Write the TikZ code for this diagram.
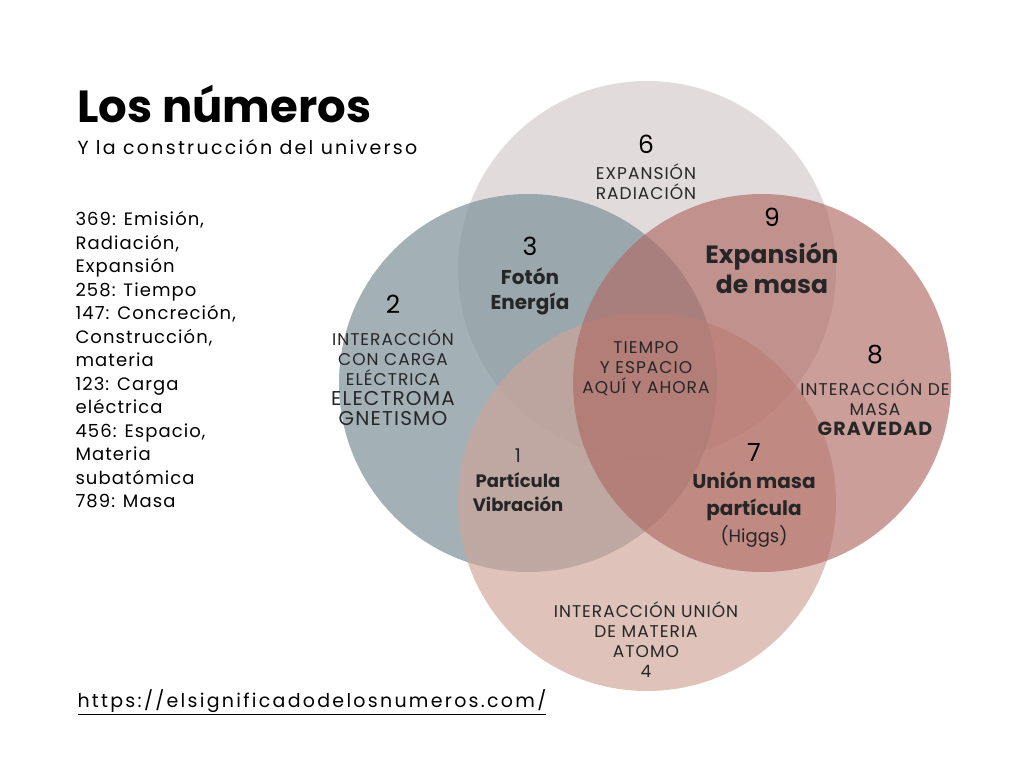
\documentclass[tikz,border=0pt]{standalone}
\usepackage{fontspec}
\setmainfont{Poppins}
\newfontfamily\spaced[LetterSpace=6]{Poppins}
\newfontfamily\wide[LetterSpace=12]{Poppins}
\tikzset{
  ring/.style = {circle, minimum size=378pt, inner sep=0pt},
  lbl/.style = {align=center, font=\spaced\fontsize{17}{20}\selectfont, text=black!85},
  num/.style = {align=center, font=\fontsize{25}{27}\selectfont, text=black},
  bignum/.style = {align=center, font=\bfseries\fontsize{25}{30}\selectfont, text=black!85},
  midnum/.style = {align=center, font=\bfseries\fontsize{20}{25}\selectfont, text=black!85}
}
\definecolor{topc}{HTML}{D9CFCF}
\definecolor{leftc}{HTML}{7C9199}
\definecolor{rightc}{HTML}{B06A64}
\definecolor{botc}{HTML}{CFA497}
\begin{document}
\begin{tikzpicture}[x=1pt,y=-1pt]
\useasboundingbox[fill=white] (0,0) rectangle (1024,768);
% circles
\node [ring, fill=topc, fill opacity=0.75] (top) at (647,270) {};
\node [ring, fill=leftc, fill opacity=0.7] (left) at (528,383) {};
\node [ring, fill=botc, fill opacity=0.65] (bot) at (647,502) {};
\node [ring, fill=rightc, fill opacity=0.65] (right) at (762,383) {};
% title
\node [anchor=west, font=\bfseries\fontsize{45}{48}\selectfont] (title) at (74,104) {Los números};
\node [anchor=west, font=\wide\fontsize{19}{21}\selectfont] (sub) at (74,147) {Y la construcción del universo};
\node [anchor=north west, align=left, font=\spaced\fontsize{18}{23.5}\selectfont] (list) at (72,208)
  {369: Emisión,\\Radiación,\\Expansión\\258: Tiempo\\147: Concreción,\\Construcción,\\materia\\123: Carga\\eléctrica\\456: Espacio,\\Materia\\subatómica\\789: Masa};
\node [anchor=west, font=\wide\fontsize{19}{21}\selectfont] (url) at (74,702) {\underline{https://elsignificadodelosnumeros.com/}};
% region labels
\node [num] (n6) at (646,144) {6};
\node [lbl] (t6) at (646,182) {EXPANSIÓN\\RADIACIÓN};
\node [num] (n9) at (772,217) {9};
\node [bignum] (t9) at (772,268) {Expansión\\de masa};
\node [num] (n3) at (530,246) {3};
\node [midnum] (t3) at (530,291) {Fotón\\Energía};
\node [num] (n2) at (393,304) {2};
\node [lbl] (t2) at (393,378) {INTERACCIÓN\\CON CARGA\\ELÉCTRICA\\{\fontsize{20}{23}\selectfont ELECTROMA}\\{\fontsize{20}{23}\selectfont GNETISMO}};
\node [lbl] (tc) at (646,369) {TIEMPO\\Y ESPACIO\\AQUÍ Y AHORA};
\node [num] (n8) at (875,355) {8};
\node [lbl] (t8) at (875,408) {INTERACCIÓN DE\\MASA\\{\bfseries\fontsize{19}{23}\selectfont GRAVEDAD}};
\node [midnum, font=\fontsize{19}{22}\selectfont] (n1) at (518,456) {1};
\node [midnum, font=\bfseries\fontsize{18}{24}\selectfont] (t1) at (518,492) {Partícula\\Vibración};
\node [num] (n7) at (754,452) {7};
\node [midnum, font=\bfseries\fontsize{20}{27}\selectfont] (t7) at (754,510) {Unión masa\\partícula\\{\mdseries\fontsize{18}{22}\selectfont (Higgs)}};
\node [lbl] (t4) at (646,640) {INTERACCIÓN UNIÓN\\DE MATERIA\\ATOMO\\4};
\end{tikzpicture}
\end{document}
